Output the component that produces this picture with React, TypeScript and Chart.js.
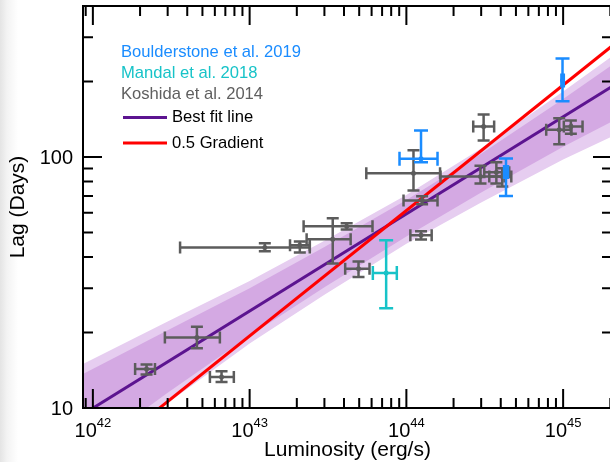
import React, { useEffect, useRef } from "react";
import { Chart, registerables } from "chart.js";

Chart.register(...registerables);

// Axis limits
const lumMin = 8.65e41;
const lumMax = 2.05e45;
const lagMin = 10;
const lagMax = 400;

// Tick marks
const xMajorExponents = [42, 43, 44, 45];
const yMajorLabels = [10, 100];

// Koshida et al. 2014
const koshidaLum = [2.2e42, 4.61e42, 6.62e42, 1.25e43, 2.09e43, 3.39e43, 4.16e43, 4.95e43, 1.24e44, 1.26e44, 1.11e44, 2.97e44, 3.11e44, 3.75e44, 4.09e44, 9.44e44, 1.12e45];
const koshidaLumLo = [1.86e42, 2.88e42, 5.58e42, 3.6e42, 1.81e43, 2.31e43, 2.21e43, 4.07e43, 1.06e44, 9.59e43, 5.55e43, 1.65e44, 2.67e44, 3.14e44, 3.38e44, 7.8e44, 1.01e45];
const koshidaLumHi = [2.49e42, 6.46e42, 7.93e42, 2.42e43, 2.42e43, 4.41e43, 6.08e43, 5.82e43, 1.45e44, 1.58e44, 1.64e44, 4.23e44, 3.63e44, 4.53e44, 4.67e44, 1.13e45, 1.33e45];
const koshidaLag = [14.3, 19.1, 13.3, 43.6, 44.5, 47.0, 53.0, 35.9, 48.8, 67.2, 86.3, 83.7, 132.4, 86.9, 83.7, 128.5, 132.4];
const koshidaLagLo = [13.6, 17.3, 12.7, 42.1, 41.7, 37.7, 51.5, 33.3, 46.9, 64.8, 73.6, 78.5, 116.5, 78.5, 76.4, 112.5, 123.9];
const koshidaLagHi = [14.9, 21.1, 14.0, 45.3, 46.1, 57.0, 54.5, 38.4, 50.6, 69.8, 106.4, 92.3, 147.9, 95.3, 90.2, 142.9, 140.0];

// Mandal et al. 2018
const mandalLum = [7.43e43];
const mandalLumLo = [6.11e43];
const mandalLumHi = [8.69e43];
const mandalLag = [34.5];
const mandalLagLo = [25.0];
const mandalLagHi = [46.6];

// Boulderstone et al. 2019
const boulderLum = [1.24e44, 9.91e44, 4.32e44];
const boulderLumLo = [9.04e43, 9.75e44, 4.2e44];
const boulderLumHi = [1.58e44, 1.01e45, 4.45e44];
const boulderLag = [98.5, 202, 87.1];
const boulderLagLo = [95.3, 167, 70.0];
const boulderLagHi = [127.6, 247, 98.6];

// Best fit line and the 0.5 gradient reference line
const fitLum = [8.65e41, 2.05e45];
const fitLag = [9.44, 191];
const gradLum = [8.65e41, 2.05e45];
const gradLag = [5.7, 277];

// Confidence bands around the fit
const bandLum = [8.65e41, 3e42, 1e43, 3e43, 1e44, 3e44, 1e45, 2.05e45];
const outerUpper = [14.98, 22.1, 32.1, 46.4, 70.6, 108.1, 182.4, 252.2];
const outerLower = [5.97, 10.46, 18.07, 28.3, 45.1, 65.9, 97.9, 120.7];
const innerUpper = [13.66, 20.4, 30.0, 43.8, 67.5, 103.2, 170.2, 232.7];
const innerLower = [6.54, 11.5, 19.4, 30.3, 48.3, 72.2, 109.9, 138.6];

// Legend entries
const legendTexts = ["Boulderstone et al. 2019", "Mandal et al. 2018", "Koshida et al. 2014"];
const legendTextColors = ["#1a8cff", "#17c3c8", "#5f5f5f"];
const legendLines = ["Best fit line", "0.5 Gradient"];
const legendLineColors = ["#5c1490", "#ff0000"];

const FONT = '"Liberation Sans", Arial, Helvetica, sans-serif';

const toXY = (xs: number[], ys: number[]) => xs.map((x, i) => ({ x, y: ys[i] }));

type ErrSet = {
  lum: number[];
  lumLo: number[];
  lumHi: number[];
  lag: number[];
  lagLo: number[];
  lagHi: number[];
  color: string;
  width: number;
  cap: number;
};

const errorSets: ErrSet[] = [
  { lum: koshidaLum, lumLo: koshidaLumLo, lumHi: koshidaLumHi, lag: koshidaLag, lagLo: koshidaLagLo, lagHi: koshidaLagHi, color: "#5c5c5c", width: 2.5, cap: 6 },
  { lum: mandalLum, lumLo: mandalLumLo, lumHi: mandalLumHi, lag: mandalLag, lagLo: mandalLagLo, lagHi: mandalLagHi, color: "#17c3c8", width: 2.5, cap: 7 },
  { lum: boulderLum, lumLo: boulderLumLo, lumHi: boulderLumHi, lag: boulderLag, lagLo: boulderLagLo, lagHi: boulderLagHi, color: "#1a8cff", width: 2.5, cap: 7 },
];

const errorBarPlugin = {
  id: "errorBars",
  afterDatasetsDraw(chart: any) {
    const { ctx, chartArea } = chart;
    const xs = chart.scales.x;
    const ys = chart.scales.y;
    ctx.save();
    ctx.beginPath();
    ctx.rect(chartArea.left, chartArea.top, chartArea.right - chartArea.left, chartArea.bottom - chartArea.top);
    ctx.clip();
    for (const s of errorSets) {
      ctx.strokeStyle = s.color;
      ctx.lineWidth = s.width;
      ctx.lineCap = "butt";
      for (let i = 0; i < s.lum.length; i++) {
        const px = xs.getPixelForValue(s.lum[i]);
        const py = ys.getPixelForValue(s.lag[i]);
        const x0 = xs.getPixelForValue(s.lumLo[i]);
        const x1 = xs.getPixelForValue(s.lumHi[i]);
        const y0 = ys.getPixelForValue(s.lagLo[i]);
        const y1 = ys.getPixelForValue(s.lagHi[i]);
        ctx.beginPath();
        ctx.moveTo(x0, py);
        ctx.lineTo(x1, py);
        ctx.moveTo(x0, py - s.cap);
        ctx.lineTo(x0, py + s.cap);
        ctx.moveTo(x1, py - s.cap);
        ctx.lineTo(x1, py + s.cap);
        ctx.moveTo(px, y0);
        ctx.lineTo(px, y1);
        ctx.moveTo(px - s.cap, y0);
        ctx.lineTo(px + s.cap, y0);
        ctx.moveTo(px - s.cap, y1);
        ctx.lineTo(px + s.cap, y1);
        ctx.stroke();
      }
    }
    ctx.restore();
  },
};

const minorValues = (lo: number, hi: number) => {
  const out: { v: number; major: boolean }[] = [];
  const e0 = Math.floor(Math.log10(lo));
  const e1 = Math.ceil(Math.log10(hi));
  for (let e = e0; e <= e1; e++) {
    for (let m = 1; m <= 9; m++) {
      const v = m * Math.pow(10, e);
      if (v >= lo * 0.9999 && v <= hi * 1.0001) out.push({ v, major: m === 1 });
    }
  }
  return out;
};

const framePlugin = {
  id: "frameAndText",
  afterDraw(chart: any) {
    const { ctx, chartArea } = chart;
    const { left, right, top, bottom } = chartArea;
    const xs = chart.scales.x;
    const ys = chart.scales.y;
    ctx.save();
    ctx.strokeStyle = "#000";
    ctx.lineWidth = 2;
    ctx.lineCap = "butt";
    ctx.strokeRect(left, top, right - left, bottom - top);

    const majorLen = 19;
    const minorLen = 10;
    ctx.beginPath();
    for (const t of minorValues(lumMin, lumMax)) {
      const px = xs.getPixelForValue(t.v);
      const len = t.major ? majorLen : minorLen;
      ctx.moveTo(px, bottom);
      ctx.lineTo(px, bottom - len);
      ctx.moveTo(px, top);
      ctx.lineTo(px, top + len);
    }
    for (const t of minorValues(lagMin, lagMax)) {
      const py = ys.getPixelForValue(t.v);
      const len = t.major ? majorLen : minorLen;
      ctx.moveTo(left, py);
      ctx.lineTo(left + len, py);
      ctx.moveTo(right, py);
      ctx.lineTo(right - len, py);
    }
    ctx.stroke();

    // x tick labels with exponents
    ctx.fillStyle = "#000";
    ctx.textBaseline = "alphabetic";
    ctx.textAlign = "left";
    for (const e of xMajorExponents) {
      const px = xs.getPixelForValue(Math.pow(10, e));
      ctx.font = `20px ${FONT}`;
      const wBase = ctx.measureText("10").width;
      ctx.font = `13px ${FONT}`;
      const wExp = ctx.measureText(String(e)).width;
      const x0 = px - (wBase + wExp) / 2;
      ctx.font = `20px ${FONT}`;
      ctx.fillText("10", x0, 437);
      ctx.font = `13px ${FONT}`;
      ctx.fillText(String(e), x0 + wBase, 427);
    }

    // y tick labels
    ctx.font = `20px ${FONT}`;
    ctx.textAlign = "right";
    ctx.textBaseline = "middle";
    for (const v of yMajorLabels) {
      const py = ys.getPixelForValue(v);
      ctx.fillText(String(v), 73, py + 1);
    }

    // axis titles
    ctx.font = `21px ${FONT}`;
    ctx.textAlign = "center";
    ctx.textBaseline = "alphabetic";
    ctx.fillText("Luminosity (erg/s)", (left + right) / 2, 456);
    ctx.save();
    ctx.translate(24, (top + bottom) / 2);
    ctx.rotate(-Math.PI / 2);
    ctx.fillText("Lag (Days)", 0, 0);
    ctx.restore();

    // legend
    ctx.font = `16.6px ${FONT}`;
    ctx.textAlign = "left";
    ctx.textBaseline = "middle";
    const rowY = [52, 73.5, 94, 117.5, 143];
    legendTexts.forEach((t, i) => {
      ctx.fillStyle = legendTextColors[i];
      ctx.fillText(t, 121, rowY[i]);
    });
    legendLines.forEach((t, i) => {
      const y = rowY[3 + i];
      ctx.strokeStyle = legendLineColors[i];
      ctx.lineWidth = 3;
      ctx.beginPath();
      ctx.moveTo(123, y);
      ctx.lineTo(167, y);
      ctx.stroke();
      ctx.fillStyle = "#000";
      ctx.fillText(t, 172, y);
    });
    ctx.restore();
  },
};

export default function App() {
  const canvasRef = useRef<HTMLCanvasElement | null>(null);

  useEffect(() => {
    const canvas = canvasRef.current;
    if (!canvas) return;
    const chart = new Chart(canvas, {
      type: "line",
      data: {
        datasets: [
          {
            label: "outer upper",
            data: toXY(bandLum, outerUpper),
            borderWidth: 0,
            pointRadius: 0,
            backgroundColor: "#e6cdf0",
            fill: "+1",
            order: 10,
          },
          {
            label: "outer lower",
            data: toXY(bandLum, outerLower),
            borderWidth: 0,
            pointRadius: 0,
            fill: false,
            order: 10,
          },
          {
            label: "inner upper",
            data: toXY(bandLum, innerUpper),
            borderWidth: 0,
            pointRadius: 0,
            backgroundColor: "#d4a9e3",
            fill: "+1",
            order: 9,
          },
          {
            label: "inner lower",
            data: toXY(bandLum, innerLower),
            borderWidth: 0,
            pointRadius: 0,
            fill: false,
            order: 9,
          },
          {
            label: "Best fit line",
            data: toXY(fitLum, fitLag),
            borderColor: "#5c1490",
            borderWidth: 3,
            pointRadius: 0,
            fill: false,
            order: 6,
          },
          {
            label: "0.5 Gradient",
            data: toXY(gradLum, gradLag),
            borderColor: "#ff0000",
            borderWidth: 3,
            pointRadius: 0,
            fill: false,
            order: 5,
          },
          {
            label: "Koshida et al. 2014",
            data: toXY(koshidaLum, koshidaLag),
            showLine: false,
            pointRadius: 2.5,
            pointBackgroundColor: "#5c5c5c",
            pointBorderWidth: 0,
            order: 3,
          },
          {
            label: "Mandal et al. 2018",
            data: toXY(mandalLum, mandalLag),
            showLine: false,
            pointRadius: 2.5,
            pointBackgroundColor: "#17c3c8",
            pointBorderWidth: 0,
            order: 2,
          },
          {
            label: "Boulderstone et al. 2019",
            data: toXY(boulderLum, boulderLag),
            showLine: false,
            pointRadius: 2.5,
            pointBackgroundColor: "#1a8cff",
            pointBorderWidth: 0,
            order: 1,
          },
        ],
      },
      options: {
        responsive: false,
        animation: false,
        events: [],
        layout: { padding: { left: 83, right: 3, top: 6, bottom: 54 } },
        scales: {
          x: { type: "logarithmic", min: lumMin, max: lumMax, display: false },
          y: { type: "logarithmic", min: lagMin, max: lagMax, display: false },
        },
        plugins: {
          legend: { display: false },
          tooltip: { enabled: false },
        },
      },
      plugins: [errorBarPlugin, framePlugin],
    });
    return () => chart.destroy();
  }, []);

  return (
    <div
      style={{
        position: "absolute",
        left: 0,
        top: 0,
        width: 610,
        height: 462,
        overflow: "hidden",
        background: "linear-gradient(to right, #e4e4e4 0px, #f3f3f3 7px, #ffffff 18px)",
      }}
    >
      <canvas ref={canvasRef} width={616} height={462} style={{ display: "block" }} />
    </div>
  );
}
